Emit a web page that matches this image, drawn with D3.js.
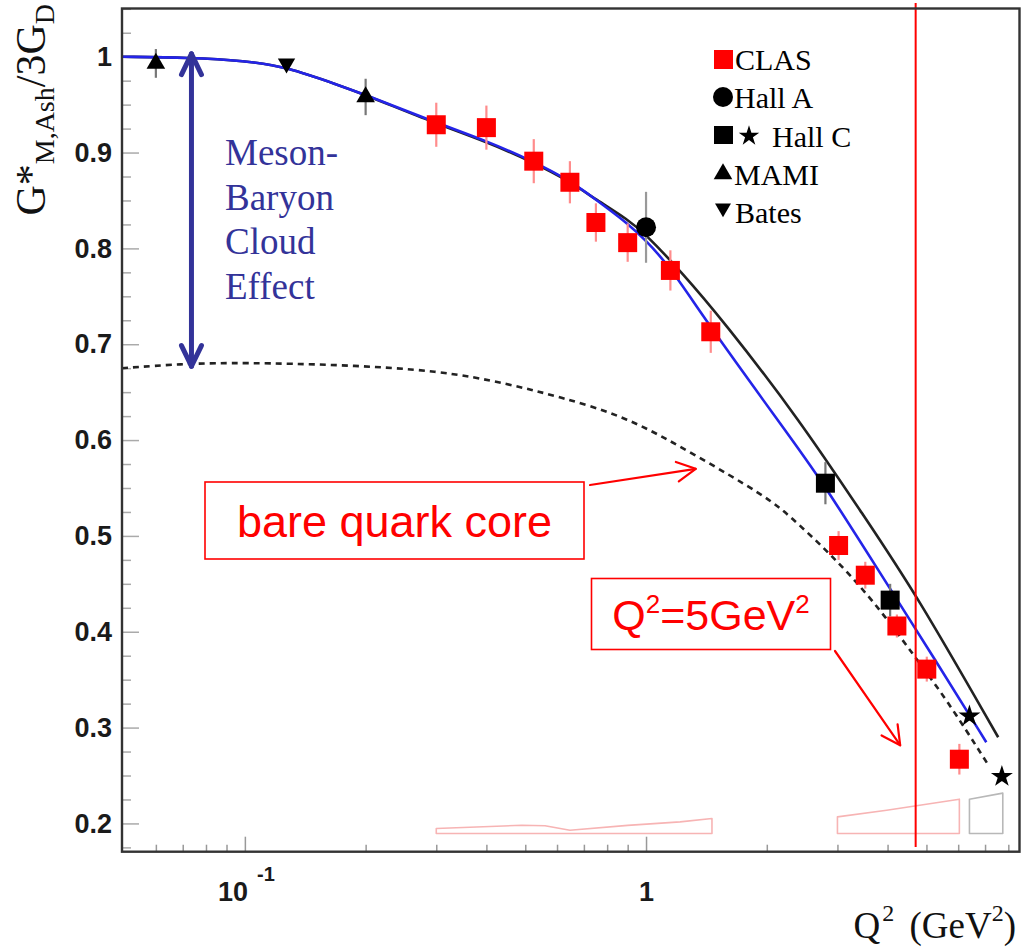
<!DOCTYPE html>
<html>
<head>
<meta charset="utf-8">
<script src="https://cdn.jsdelivr.net/npm/d3@7"></script>
<style>
  body { margin: 0; background: #fff; }
  svg { display: block; }
</style>
</head>
<body>
<script>
// ---- data ----
// CLAS (red squares)
var clasQ2  = [0.3, 0.4, 0.525, 0.646, 0.75, 0.9, 1.15, 1.45, 3.02, 3.52, 4.22, 5.01, 6.04];
var clasG   = [0.929, 0.926, 0.891, 0.869, 0.827, 0.806, 0.777, 0.713, 0.490, 0.459, 0.406, 0.361, 0.267];
var clasErr = [0.023, 0.023, 0.023, 0.022, 0.020, 0.020, 0.021, 0.022, 0.015, 0.014, 0.012, 0.013, 0.016];

// Hall A (circle)
var hallAQ2 = [1.0];
var hallAG = [0.822];
var hallAErr = [0.037];

// Hall C (squares and stars)
var hallCSqQ2 = [2.8, 4.06];
var hallCSqG = [0.555, 0.433];
var hallCSqErr = [0.022, 0.017];
var hallCStarQ2 = [6.4, 7.71];
var hallCStarG = [0.312, 0.249];
var hallCStarErr = [0.005, 0.005];

// MAMI (up triangles), Bates (down triangle)
var mamiQ2 = [0.06, 0.2];
var mamiG = [0.993, 0.958];
var mamiErr = [0.015, 0.019];
var batesQ2 = [0.127];
var batesG = [0.993];
var batesErr = [0.004];

// model curves
var blueQ2 = [0.0494, 0.0729, 0.1, 0.1265, 0.1725, 0.1992, 0.2995, 0.399, 0.5256, 0.6463, 0.7503, 0.9018, 1.0, 1.148, 1.452, 2.38, 2.797, 3.688, 5.307, 7.05];
var blueG  = [1.000, 0.999, 0.9958, 0.9896, 0.9698, 0.9604, 0.9312, 0.9124, 0.8905, 0.8707, 0.8509, 0.8259, 0.8081, 0.7810, 0.7164, 0.5933, 0.5516, 0.4724, 0.3681, 0.2847];
var blackQ2 = [0.0494, 0.0729, 0.1, 0.1265, 0.1725, 0.1992, 0.2995, 0.399, 0.5256, 0.6463, 0.7503, 0.9018, 1.0, 1.216, 1.556, 2.421, 3.5, 4.686, 7.548];
var blackG  = [1.000, 0.999, 0.9958, 0.9896, 0.9698, 0.9604, 0.9301, 0.9114, 0.8895, 0.8697, 0.8509, 0.8300, 0.8144, 0.7769, 0.7247, 0.6204, 0.5200, 0.4411, 0.2899];
var coreQ2 = [0.0494, 0.0713, 0.1, 0.1725, 0.3064, 0.45, 0.6104, 0.8967, 1.310, 2.003, 2.286, 2.877, 3.688, 4.686, 5.63, 7.087];
var coreG  = [0.675, 0.6799, 0.6807, 0.6787, 0.6725, 0.6590, 0.6450, 0.6242, 0.5858, 0.5405, 0.5204, 0.4817, 0.4327, 0.3735, 0.3285, 0.2628];

// systematic error bands (upper edge; lower edge at bandBase)
var bandBase = 0.1895;
var band1Q2 = [0.3, 0.49, 0.56, 0.646, 0.9, 1.216, 1.46];
var band1Top = [0.1947, 0.1981, 0.1975, 0.1929, 0.198, 0.2016, 0.2051];
var band2Q2 = [3.0, 3.98, 6.04];
var band2Top = [0.2068, 0.2138, 0.2253];
var band3Q2 = [6.4, 7.75];
var band3Top = [0.2253, 0.2316];

var cutQ2 = 4.7;

// axis ticks
var yTicks = [0.2, 0.3, 0.4, 0.5, 0.6, 0.7, 0.8, 0.9, 1];
var xMajorTicks = [0.1, 1];
var xMinorTicks = [0.06, 0.07, 0.08, 0.09, 0.2, 0.3, 0.4, 0.5, 0.6, 0.7, 0.8, 0.9, 2, 3, 4, 5, 6, 7, 8];

// ---- drawing ----
var svgWidth = 1025, svgHeight = 948;
var plot = { left: 122, right: 1019.5, top: 8.5, bottom: 851.7 };

var svg = d3.select("body").append("svg")
  .attr("width", svgWidth)
  .attr("height", svgHeight);

svg.append("rect").attr("width", svgWidth).attr("height", svgHeight).attr("fill", "#fff");

var x = d3.scaleLog().domain([0.0494, 8.53]).range([plot.left, plot.right]);
var y = d3.scaleLinear().domain([0.1705, 1.0503]).range([plot.bottom, plot.top]);

var serif = "'Liberation Serif', 'Times New Roman', serif";
var sans = "'Liberation Sans', Arial, Helvetica, sans-serif";

svg.append("clipPath").attr("id", "clip")
  .append("rect")
  .attr("x", plot.left).attr("y", plot.top)
  .attr("width", plot.right - plot.left).attr("height", plot.bottom - plot.top);

// y axis ticks (pointing inward)
var yMinor = d3.range(7, 43).filter(i => i % 4 != 0).map(i => i * 0.025);
svg.append("g")
  .attr("transform", `translate(${plot.left},0)`)
  .call(d3.axisLeft(y).tickValues(yMinor).tickSize(-9).tickFormat(""))
  .call(g => g.select(".domain").remove())
  .selectAll("line").attr("stroke", "#aaa").attr("stroke-width", 1.5);

svg.append("g")
  .attr("transform", `translate(${plot.left},0)`)
  .call(d3.axisLeft(y).tickValues(yTicks).tickSize(-17).tickPadding(10)
    .tickFormat(d => d == 1 ? "1" : d3.format(".1f")(d)))
  .attr("font-family", sans).attr("font-size", 27).attr("font-weight", "bold")
  .call(g => g.select(".domain").remove())
  .call(g => g.selectAll("text").attr("fill", "#1a1a1a"))
  .selectAll("line").attr("stroke", "#aaa").attr("stroke-width", 1.5);

// x axis ticks
svg.append("g")
  .attr("transform", `translate(0,${plot.bottom})`)
  .call(d3.axisBottom(x).tickValues(xMinorTicks).tickSize(-7).tickFormat(""))
  .call(g => g.select(".domain").remove())
  .selectAll("line").attr("stroke", "#999").attr("stroke-width", 1.5);

var xAxisG = svg.append("g")
  .attr("transform", `translate(0,${plot.bottom})`)
  .call(d3.axisBottom(x).tickValues(xMajorTicks).tickSize(-15).tickPadding(30)
    .tickFormat(d => d == 1 ? "1" : ""))
  .attr("font-family", sans).attr("font-size", 27).attr("font-weight", "bold")
  .call(g => g.select(".domain").remove());
xAxisG.selectAll("line").attr("stroke", "#999").attr("stroke-width", 1.5);
xAxisG.selectAll("text").attr("fill", "#1a1a1a");
xAxisG.selectAll(".tick").filter(d => d == 0.1).select("text")
  .attr("dx", 1)
  .call(t => {
    t.append("tspan").text("10");
    t.append("tspan").attr("dx", 9).attr("dy", -20).attr("font-size", 20).text("-1");
  });

// systematic bands
var band = (qs, tops, color) => {
  var top = qs.map((q, i) => [x(q), y(tops[i])]);
  var bot = qs.slice().reverse().map(q => [x(q), y(bandBase)]);
  svg.append("path")
    .attr("d", d3.line().curve(d3.curveLinearClosed)(top.concat(bot)))
    .attr("fill", "none").attr("stroke", color).attr("stroke-width", 1.6)
    .attr("stroke-linejoin", "round");
};
band(band1Q2, band1Top, "#f7b4b4");
band(band2Q2, band2Top, "#f7b4b4");
band(band3Q2, band3Top, "#b8b8b8");

// curves
var curveLine = d3.line().x(d => x(d[0])).y(d => y(d[1])).curve(d3.curveBasis);
var zip = (a, b) => a.map((v, i) => [v, b[i]]);
var curves = svg.append("g").attr("clip-path", "url(#clip)");
curves.append("path").attr("d", curveLine(zip(coreQ2, coreG)))
  .attr("fill", "none").attr("stroke", "#222").attr("stroke-width", 2.6)
  .attr("stroke-dasharray", "6,5");
curves.append("path").attr("d", curveLine(zip(blackQ2, blackG)))
  .attr("fill", "none").attr("stroke", "#222").attr("stroke-width", 2.6);
curves.append("path").attr("d", curveLine(zip(blueQ2, blueG)))
  .attr("fill", "none").attr("stroke", "#2424e8").attr("stroke-width", 2.6);

// Q2 = 5 GeV2 marker line
svg.append("line")
  .attr("x1", x(cutQ2)).attr("x2", x(cutQ2))
  .attr("y1", 3).attr("y2", 847)
  .attr("stroke", "#ff0000").attr("stroke-width", 2);

// error bars
var errBars = (qs, gs, es, color) => {
  svg.append("g").selectAll("line")
    .data(qs.map((q, i) => ({ q: q, g: gs[i], e: es[i] })))
    .enter().append("line")
    .attr("x1", d => x(d.q)).attr("x2", d => x(d.q))
    .attr("y1", d => y(d.g - d.e)).attr("y2", d => y(d.g + d.e))
    .attr("stroke", color).attr("stroke-width", 2.2);
};
errBars(clasQ2, clasG, clasErr, "#ff8c8c");
errBars(hallAQ2, hallAG, hallAErr, "#999");
errBars(hallCSqQ2, hallCSqG, hallCSqErr, "#777");
errBars(hallCStarQ2, hallCStarG, hallCStarErr, "#777");
errBars(mamiQ2, mamiG, mamiErr, "#777");
errBars(batesQ2, batesG, batesErr, "#777");

// markers
var pts = (qs, gs) => qs.map((q, i) => [q, gs[i]]);
var squares = (qs, gs, color) => {
  svg.append("g").selectAll("rect")
    .data(pts(qs, gs)).enter().append("rect")
    .attr("x", d => x(d[0]) - 9.5).attr("y", d => y(d[1]) - 9.5)
    .attr("width", 19).attr("height", 19).attr("fill", color);
};
var symbols = (qs, gs, type, size, rot) => {
  svg.append("g").selectAll("path")
    .data(pts(qs, gs)).enter().append("path")
    .attr("d", d3.symbol().type(type).size(size))
    .attr("transform", d => `translate(${x(d[0])},${y(d[1])}) rotate(${rot})`)
    .attr("fill", "#000");
};
squares(clasQ2, clasG, "#ff0000");
squares(hallCSqQ2, hallCSqG, "#000");
symbols(hallAQ2, hallAG, d3.symbolCircle, 314, 0);
symbols(hallCStarQ2, hallCStarG, d3.symbolStar, 150, 0);
symbols(mamiQ2, mamiG, d3.symbolTriangle, 150, 0);
symbols(batesQ2, batesG, d3.symbolTriangle, 130, 180);

// legend
var legend = svg.append("g").attr("font-family", serif).attr("font-size", 30).attr("fill", "#000");
legend.append("rect").attr("x", 714).attr("y", 50).attr("width", 19).attr("height", 19).attr("fill", "#ff0000");
legend.append("text").attr("x", 735).attr("y", 70).text("CLAS");
legend.append("circle").attr("cx", 723).attr("cy", 97).attr("r", 10).attr("fill", "#000");
legend.append("text").attr("x", 734).attr("y", 108).text("Hall A");
legend.append("rect").attr("x", 714).attr("y", 126).attr("width", 19).attr("height", 18).attr("fill", "#000");
legend.append("path").attr("d", d3.symbol().type(d3.symbolStar).size(130)).attr("transform", "translate(749,136)");
legend.append("text").attr("x", 772).attr("y", 147).text("Hall C");
legend.append("path").attr("d", d3.symbol().type(d3.symbolTriangle).size(150)).attr("transform", "translate(723,174)");
legend.append("text").attr("x", 734).attr("y", 185).text("MAMI");
legend.append("path").attr("d", d3.symbol().type(d3.symbolTriangle).size(110)).attr("transform", "translate(723,208) rotate(180)");
legend.append("text").attr("x", 735).attr("y", 223).text("Bates");

// arrows
var arrow = (x1, y1, x2, y2, color, width, len, ang, both) => {
  var g = svg.append("g").attr("stroke", color).attr("stroke-width", width)
    .attr("stroke-linecap", "round").attr("fill", "none");
  g.append("line").attr("x1", x1).attr("y1", y1).attr("x2", x2).attr("y2", y2);
  var head = (tx, ty, fx, fy) => {
    var a = Math.atan2(fy - ty, fx - tx);
    var pts = [a - ang, a + ang].map(b => [tx + len * Math.cos(b), ty + len * Math.sin(b)]);
    g.append("path").attr("d", `M${pts[0][0]},${pts[0][1]}L${tx},${ty}L${pts[1][0]},${pts[1][1]}`)
      .attr("stroke-linejoin", "round");
  };
  head(x2, y2, x1, y1);
  if (both) head(x1, y1, x2, y2);
};

// meson-baryon cloud arrow between bare core and full curve
var cloudQ2 = 0.0736;
arrow(x(cloudQ2), y(1.003), x(cloudQ2), y(0.677), "#333399", 5, 23, Math.PI / 7, true);

var meson = svg.append("g").attr("font-family", serif).attr("font-size", 37).attr("fill", "#333399");
["Meson-", "Baryon", "Cloud", "Effect"].forEach((s, i) => {
  meson.append("text").attr("x", 225).attr("y", 165 + i * 44.5).text(s);
});

// bare quark core box
svg.append("rect").attr("x", 205).attr("y", 482).attr("width", 379).attr("height", 77)
  .attr("fill", "none").attr("stroke", "#ff0000").attr("stroke-width", 1.6);
svg.append("text").attr("x", 394.5).attr("y", 537).attr("text-anchor", "middle")
  .attr("font-family", sans).attr("font-size", 45).attr("fill", "#ff0000").text("bare quark core");
arrow(590, 485, x(1.33), y(0.570), "#ff0000", 2.2, 21, Math.PI / 6.5, false);

// Q2 = 5 GeV2 box
svg.append("rect").attr("x", 591.5).attr("y", 578.5).attr("width", 239).attr("height", 71)
  .attr("fill", "none").attr("stroke", "#ff0000").attr("stroke-width", 1.6);
var qt = svg.append("text").attr("x", 711).attr("y", 630).attr("text-anchor", "middle")
  .attr("font-family", sans).attr("font-size", 43).attr("fill", "#ff0000");
qt.append("tspan").text("Q");
qt.append("tspan").attr("font-size", 26).attr("dy", -17).text("2");
qt.append("tspan").attr("dy", 17).text("=5GeV");
qt.append("tspan").attr("font-size", 26).attr("dy", -17).text("2");
arrow(835, 651, x(4.30), y(0.2816), "#ff0000", 2.2, 21, Math.PI / 6.5, false);

// frame
svg.append("rect")
  .attr("x", plot.left).attr("y", plot.top)
  .attr("width", plot.right - plot.left).attr("height", plot.bottom - plot.top)
  .attr("fill", "none").attr("stroke", "#333").attr("stroke-width", 2.4);

// axis titles
var yt = svg.append("text")
  .attr("transform", "translate(45,4) rotate(-90)")
  .attr("text-anchor", "end")
  .attr("font-family", serif).attr("font-size", 42).attr("fill", "#111");
yt.append("tspan").text("G*");
yt.append("tspan").attr("font-size", 28).attr("dy", 9).text("M,Ash");
yt.append("tspan").attr("dy", -9).text("/3G");
yt.append("tspan").attr("font-size", 28).attr("dy", 9).text("D");

var xt = svg.append("text")
  .attr("x", 1016).attr("y", 938)
  .attr("text-anchor", "end")
  .attr("font-family", serif).attr("font-size", 37).attr("fill", "#111");
xt.append("tspan").text("Q");
xt.append("tspan").attr("font-size", 24).attr("dy", -17).attr("dx", 2).text("2");
xt.append("tspan").attr("dy", 17).attr("dx", 6).text(" (GeV");
xt.append("tspan").attr("font-size", 24).attr("dy", -17).text("2");
xt.append("tspan").attr("dy", 17).text(")");
</script>
</body>
</html>
